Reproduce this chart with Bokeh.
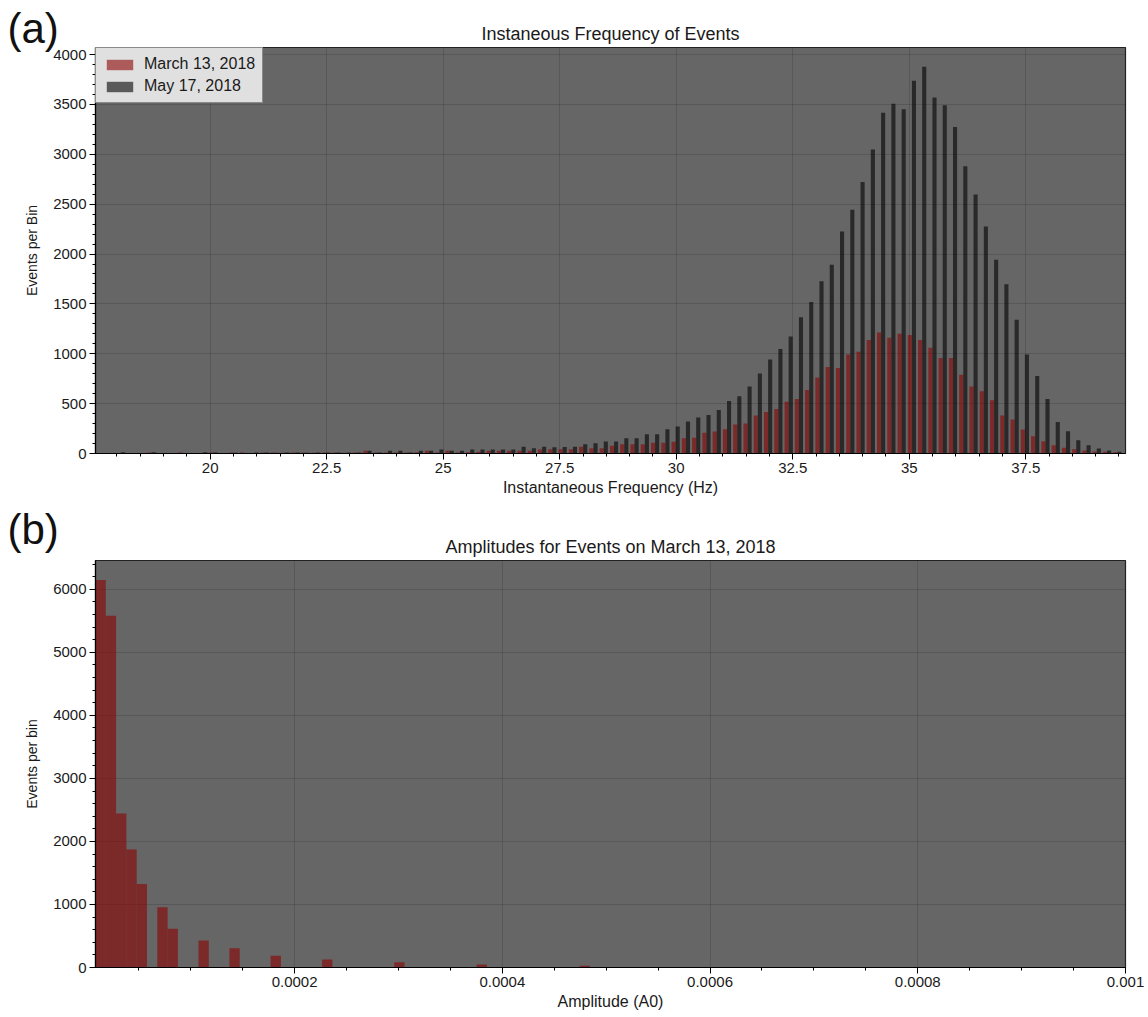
import numpy as np
from bokeh.plotting import figure
from bokeh.layouts import column
from bokeh.models import (Range1d, FixedTicker, CustomJSTickFormatter, Label, Title,
                          Legend, LegendItem, ColumnDataSource)
from bokeh.embed import file_html
from bokeh.resources import INLINE

# ---------------- data: panel (a) ----------------
freq_first_edge = 17.976      # Hz, left edge of first bin
freq_bin_width = 0.2204       # Hz
march_counts = [0, 0, 0, 10, 0, 0, 10, 0, 0, 10,
                0, 10, 10, 0, 10, 10, 7, 10, 10, 7,
                10, 10, 7, 10, 27, 10, 10, 10, 10, 13,
                27, 10, 27, 10, 13, 17, 27, 27, 27, 27,
                27, 40, 43, 43, 43, 67, 53, 53, 77, 93,
                93, 93, 107, 107, 117, 153, 157, 207, 220, 243,
                290, 300, 380, 417, 447, 520, 547, 637, 763, 867,
                857, 993, 1020, 1137, 1213, 1160, 1200, 1187, 1137, 1060,
                957, 957, 790, 673, 623, 533, 380, 340, 240, 173,
                123, 83, 57, 43, 30, 20, 17, 13]
may_counts = [13, 0, 0, 13, 0, 0, 0, 0, 13, 10,
              0, 7, 0, 10, 10, 7, 10, 10, 7, 10,
              10, 10, 10, 10, 27, 10, 27, 27, 10, 27,
              27, 40, 27, 27, 40, 40, 40, 40, 40, 67,
              53, 67, 63, 65, 67, 93, 103, 120, 120, 153,
              153, 193, 193, 243, 270, 320, 360, 387, 437, 527,
              573, 673, 803, 943, 1047, 1173, 1367, 1520, 1727, 1893,
              2227, 2443, 2723, 3047, 3417, 3507, 3453, 3737, 3877, 3570,
              3493, 3273, 2880, 2597, 2277, 1943, 1697, 1340, 993, 777,
              547, 317, 223, 133, 83, 50, 30, 17]
freq_major_ticks = [20, 22.5, 25, 27.5, 30, 32.5, 35, 37.5]
series_labels = ["March 13, 2018", "May 17, 2018"]
title_a = "Instaneous Frequency of Events"

# ---------------- data: panel (b) ----------------
amp_min = 8.3e-6
amp_max = 0.001
amp_nbins = 100
amp_bin_index = [0, 1, 2, 3, 4, 6, 7, 10, 13, 17, 22, 29, 37, 47]
amp_counts = [6148, 5580, 2443, 1871, 1326, 954, 615, 429, 307, 186, 127, 84, 48, 27]
amp_major_ticks = [0.0002, 0.0004, 0.0006, 0.0008, 0.001]
title_b = "Amplitudes for Events on March 13, 2018"

FONT = "Liberation Sans"
RED = "#8b0000"
BLACK = "#000000"
ALPHA = 0.6
TXT = "#1a1a1a"

fmt = CustomJSTickFormatter(code="return String(tick);")


def style(p):
    p.background_fill_color = "#666666"
    p.border_fill_color = "white"
    p.outline_line_color = "#222222"
    p.outline_line_width = 1.2
    p.grid.grid_line_color = "#000000"
    p.grid.grid_line_alpha = 0.13
    p.grid.grid_line_width = 1
    for ax in (p.xaxis[0], p.yaxis[0]):
        ax.axis_line_color = "black"
        ax.axis_line_width = 1.2
        ax.major_tick_line_color = "black"
        ax.minor_tick_line_color = "black"
        ax.major_tick_out = 6
        ax.major_tick_in = 0
        ax.minor_tick_out = 3
        ax.minor_tick_in = 0
        ax.major_label_text_font = FONT
        ax.major_label_text_font_size = "15px"
        ax.major_label_text_color = TXT
        ax.axis_label_text_font = FONT
        ax.axis_label_text_font_size = "16px"
        ax.axis_label_text_font_style = "normal"
        ax.axis_label_text_color = TXT
        ax.major_label_standoff = 3
        ax.formatter = fmt
    p.xaxis[0].axis_label_standoff = 3
    p.yaxis[0].axis_label_text_font_size = "14px"
    p.yaxis[0].axis_label_standoff = 10


def add_titles(p, text, tag, tag_y):
    # panel tag placed in canvas coordinates (occupies the slot next to the frame)
    p.add_layout(Label(x=7, y=tag_y, x_units="canvas", y_units="canvas", text=tag,
                       text_font=FONT, text_font_size="42px", text_baseline="middle",
                       text_color="#111111"), "above")
    # main title, pulled back down next to the frame
    p.add_layout(Title(text=text, align="center", text_font=FONT, text_font_size="18px",
                       text_font_style="normal", text_color=TXT, standoff=-86), "above")


# ---------------- panel (a) ----------------
nb = len(march_counts)
left_edges = freq_first_edge + freq_bin_width * np.arange(nb)
src_a = ColumnDataSource(dict(
    xr=left_edges + 0.3 * freq_bin_width,
    xb=left_edges + 0.7 * freq_bin_width,
    red=march_counts, blk=may_counts))

p1 = figure(width=1148, height=505, output_backend="svg", toolbar_location=None,
            x_range=Range1d(17.54, 39.64), y_range=Range1d(0, 4071),
            x_axis_label="Instantaneous Frequency (Hz)", y_axis_label="Events per Bin",
            min_border_left=95, min_border_right=1, min_border_top=47, min_border_bottom=52)
r_red = p1.vbar(x="xr", top="red", width=0.4 * freq_bin_width, source=src_a,
                fill_color=RED, fill_alpha=ALPHA, line_color=None)
r_blk = p1.vbar(x="xb", top="blk", width=0.4 * freq_bin_width, source=src_a,
                fill_color=BLACK, fill_alpha=ALPHA, line_color=None)
style(p1)
p1.xaxis[0].ticker = FixedTicker(ticks=freq_major_ticks,
                                 minor_ticks=list(np.arange(17.5, 39.6, 0.5)))
p1.yaxis[0].ticker = FixedTicker(ticks=list(range(0, 4001, 500)),
                                 minor_ticks=list(range(0, 4001, 100)))

legend = Legend(items=[LegendItem(label=series_labels[0], renderers=[r_red]),
                       LegendItem(label=series_labels[1], renderers=[r_blk])],
                location="top_left", margin=0, padding=7, spacing=4,
                glyph_width=33, glyph_height=13, label_standoff=8, label_height=17,
                background_fill_color="#e0e0e0", background_fill_alpha=1.0,
                border_line_color="#333333", border_line_width=1,
                label_text_font=FONT, label_text_font_size="16px",
                label_text_color=TXT)
p1.add_layout(legend, "center")
add_titles(p1, title_a, "(a)", 28)

# ---------------- panel (b) ----------------
amp_w = (amp_max - amp_min) / amp_nbins
amp_left = amp_min + amp_w * np.array(amp_bin_index)
src_b = ColumnDataSource(dict(x=amp_left + amp_w / 2, top=amp_counts))

p2 = figure(width=1148, height=512, output_backend="svg", toolbar_location=None,
            x_range=Range1d(amp_min, amp_max), y_range=Range1d(0, 6457),
            x_axis_label="Amplitude (A0)", y_axis_label="Events per bin",
            min_border_left=95, min_border_right=23, min_border_top=55, min_border_bottom=50)
p2.vbar(x="x", top="top", width=amp_w, source=src_b,
        fill_color=RED, fill_alpha=ALPHA, line_color=None)
style(p2)
p2.xaxis[0].ticker = FixedTicker(ticks=amp_major_ticks,
                                 minor_ticks=[round(0.00005 * i, 6) for i in range(1, 21)])
p2.yaxis[0].ticker = FixedTicker(ticks=list(range(0, 6001, 1000)),
                                 minor_ticks=list(range(0, 6401, 200)))
add_titles(p2, title_b, "(b)", 24)

layout = column(p1, p2, spacing=0)
open("out.html", "w").write(file_html(layout, INLINE))
